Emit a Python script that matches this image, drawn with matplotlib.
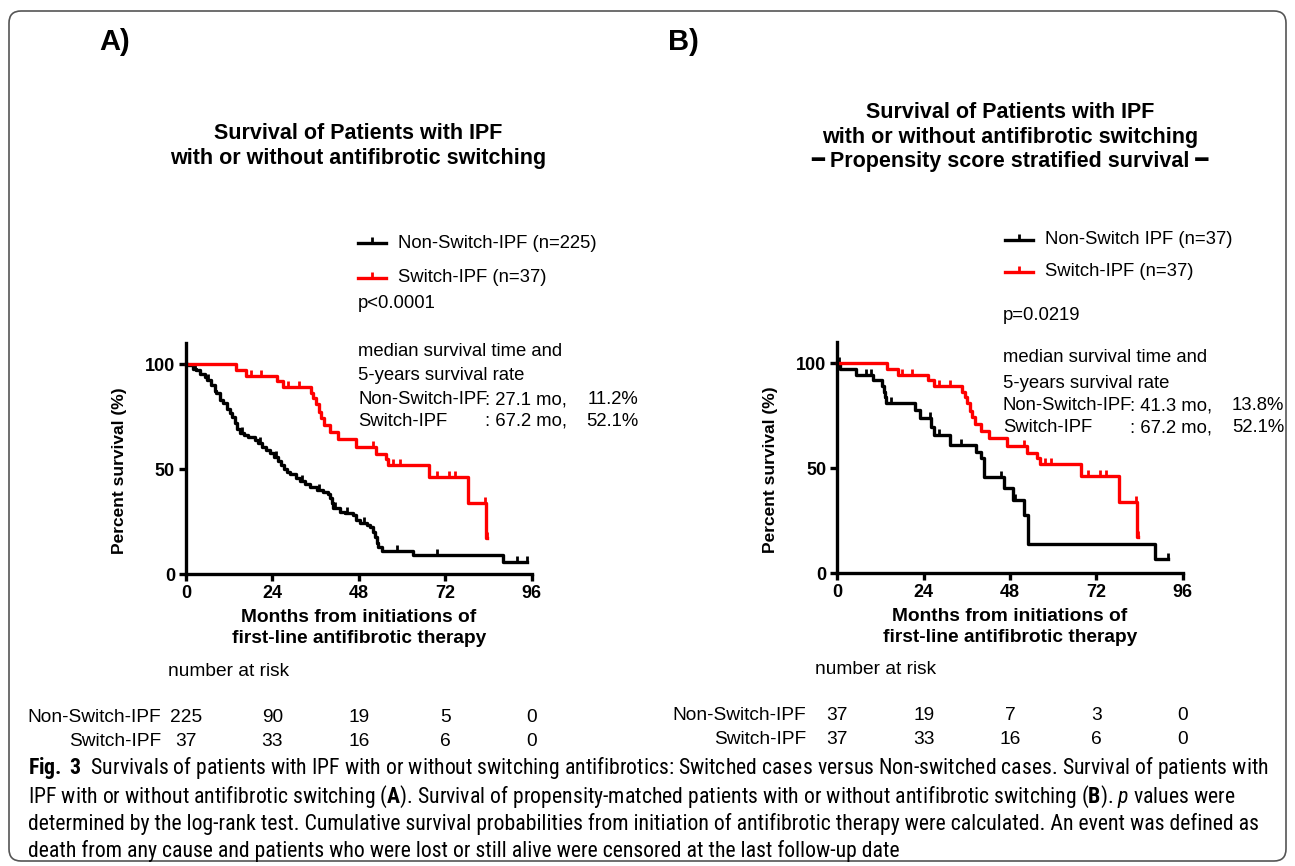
import numpy as np
import matplotlib
matplotlib.use('Agg')
import matplotlib.pyplot as plt
from matplotlib import transforms, font_manager
from matplotlib.patches import FancyBboxPatch
from matplotlib.markers import TICKUP

# ---- data ----
months_ticks = [0, 24, 48, 72, 96]
surv_ticks = [0, 50, 100]

# Switch-IPF (n=37), same curve in both panels
sw_t = [0, 13.9, 16.8, 25.2, 26.9, 34.6, 35.4, 36.1, 36.8, 37.4, 38.3, 40.0,
        42.3, 47.2, 52.8, 55.6, 56.2, 67.6, 78.4, 83.4]
sw_s = [100, 97.3, 94.6, 91.9, 89.2, 86.5, 83.8, 81.1, 77.5, 74.3, 71.1, 67.9,
        64.3, 60.6, 57.3, 54.8, 52.1, 46.2, 33.8, 17.2]
sw_end = 83.7
sw_cens = [18.0, 20.8, 28.4, 31.4, 52.0, 57.6, 59.4, 69.6, 72.9, 74.7, 83.1, 83.7]

# Non-Switch-IPF (n=225), panel A
ns_t = [0, 0.6, 2.0, 2.9, 3.9, 5.2, 5.7, 7.0, 8.1, 8.4, 9.4, 10.3, 11.3, 12.1,
        12.7, 13.5, 14.3, 14.9, 16.0, 17.2, 19.1, 20.0, 21.0, 22.2, 23.3, 24.4,
        25.6, 26.5, 27.2, 28.0, 29.0, 30.6, 31.7, 33.0, 34.4, 36.3, 38.1, 39.5,
        40.0, 40.5, 40.9, 42.8, 44.2, 46.5, 47.3, 48.3, 50.2, 51.1, 52.0, 52.5,
        53.0, 53.4, 54.3, 63.1, 88.1]
ns_s = [100, 99.6, 97.6, 97.1, 95.2, 94.1, 92.5, 90.3, 87.5, 86.2, 83.0, 81.4,
        78.5, 76.7, 74.9, 71.9, 69.4, 67.5, 66.2, 65.5, 64.0, 62.5, 60.8, 59.1,
        57.6, 56.0, 54.0, 52.0, 50.2, 48.9, 47.6, 46.0, 44.5, 43.0, 41.7, 40.2,
        39.4, 38.0, 36.5, 34.0, 31.5, 29.8, 29.1, 28.3, 26.0, 24.3, 23.5, 22.7,
        20.0, 17.9, 15.0, 12.8, 11.2, 9.0, 6.0]
ns_end = 94.6
ns_cens = [2.4, 6.2, 15.5, 20.5, 24.9, 32.3, 36.8, 41.5, 44.8, 49.5, 58.5, 69.6,
           91.8, 94.6]

# Non-Switch IPF (n=37), panel B (propensity matched)
nb_t = [0, 0.7, 5.3, 9.9, 12.5, 12.9, 13.3, 13.6, 21.5, 22.9, 26.1, 27.0, 31.2,
        38.6, 40.0, 40.9, 46.2, 48.8, 51.8, 53.0, 88.3]
nb_s = [100, 97.3, 94.6, 91.9, 89.2, 86.5, 83.8, 81.1, 77.8, 73.8, 69.8, 65.9,
        61.1, 57.9, 54.8, 46.0, 40.5, 34.9, 27.8, 13.8, 6.9]
nb_end = 92.0
nb_cens = [0.4, 8.1, 9.4, 15.0, 25.7, 28.4, 34.4, 45.6, 49.3, 92.0]

risk_A_ns = [225, 90, 19, 5, 0]
risk_A_sw = [37, 33, 16, 6, 0]
risk_B_ns = [37, 19, 7, 3, 0]
risk_B_sw = [37, 33, 16, 6, 0]

caption = [
    "Survivals of patients with IPF with or without switching antifibrotics: Switched cases versus Non-switched cases. Survival of patients with",
    r"IPF with or without antifibrotic switching ($\mathbf{A}$). Survival of propensity-matched patients with or without antifibrotic switching ($\mathbf{B}$). $\mathit{p}$ values were",
    "determined by the log-rank test. Cumulative survival probabilities from initiation of antifibrotic therapy were calculated. An event was defined as",
    "death from any cause and patients who were lost or still alive were censored at the last follow-up date",
]

RED = '#ff0000'
plt.rcParams['font.family'] = ['Liberation Sans', 'DejaVu Sans']

# pick a narrow face for the caption if one is installed
faces = font_manager.fontManager.ttflist
capfont, capstretch = 'Liberation Sans', 'normal'
for want in ['Liberation Sans Narrow', 'Roboto Condensed', 'Open Sans Condensed',
             'Noto Sans Condensed', 'DejaVu Sans Condensed']:
    if any(f.name == want for f in faces):
        capfont = want
        break
else:
    for f in faces:
        if 'condensed' in str(f.stretch) and f.style == 'normal' and 'Mono' not in f.name \
                and 'Serif' not in f.name:
            capfont, capstretch = f.name, f.stretch
            break
suffix = '' if capstretch == 'normal' else ':' + capstretch
plt.rcParams['mathtext.fontset'] = 'custom'
plt.rcParams['mathtext.rm'] = capfont + suffix
plt.rcParams['mathtext.bf'] = capfont + ':bold' + suffix
plt.rcParams['mathtext.it'] = capfont + ':italic' + suffix

W, H = 1295, 866
FS = 13.3
fig = plt.figure(figsize=(W / 100, H / 100), dpi=100)

# overlay in pixel coordinates for free-standing text
ov = fig.add_axes([0, 0, 1, 1])
ov.set_xlim(0, W)
ov.set_ylim(H, 0)
ov.axis('off')

ov.add_patch(FancyBboxPatch((9, 11), W - 18, 850, boxstyle='round,pad=0,rounding_size=12',
                            fc='none', ec='#555555', lw=1.2))


def km(ax, t, s, t_end, cens, color):
    tt = list(t) + [t_end]
    ss = list(s) + [s[-1]]
    ax.step(tt, ss, where='post', color=color, lw=2.4, clip_on=False)
    idx = np.searchsorted(t, cens, side='right') - 1
    ax.plot(cens, np.array(s)[idx], ls='none', marker=TICKUP, ms=4.5, mew=2,
            color=color, clip_on=False)


def setup(ax):
    ax.set_facecolor('none')
    ax.set_xlim(0, 96)
    ax.set_ylim(0, 110)
    ax.set_xticks(months_ticks)
    ax.set_yticks(surv_ticks)
    for side in ['top', 'right']:
        ax.spines[side].set_visible(False)
    for side in ['left', 'bottom']:
        ax.spines[side].set_linewidth(2.4)
    ax.tick_params(width=2.4, length=5, labelsize=13, pad=3)
    for lab in ax.get_xticklabels() + ax.get_yticklabels():
        lab.set_fontweight('bold')
    ax.set_ylabel('Percent survival (%)', fontsize=12.5, fontweight='bold')
    ax.yaxis.set_label_coords(-0.172, 0.45)
    ax.set_xlabel('Months from initiations of\nfirst-line antifibrotic therapy',
                  fontsize=13.8, fontweight='bold', linespacing=1.3)
    ax.xaxis.set_label_coords(0.5, -0.15)


axA = fig.add_axes([186 / W, (H - 574.3) / H, 345.7 / W, 231 / H])
axB = fig.add_axes([837.3 / W, (H - 573.3) / H, 345.4 / W, 231 / H])
setup(axA)
setup(axB)
km(axA, ns_t, ns_s, ns_end, ns_cens, 'black')
km(axA, sw_t, sw_s, sw_end, sw_cens, RED)
km(axB, nb_t, nb_s, nb_end, nb_cens, 'black')
km(axB, sw_t, sw_s, sw_end, sw_cens, RED)

# panel letters and titles
ov.text(115, 42, 'A)', fontsize=21, fontweight='bold', ha='center', va='center')
ov.text(683, 42, 'B)', fontsize=21, fontweight='bold', ha='center', va='center')
ov.text(358, 146, 'Survival of Patients with IPF\nwith or without antifibrotic switching',
        fontsize=15.5, fontweight='bold', ha='center', va='center', linespacing=1.3)
ov.text(1010, 137, 'Survival of Patients with IPF\nwith or without antifibrotic switching\n'
        '\u2501 Propensity score stratified survival \u2501',
        fontsize=15.5, fontweight='bold', ha='center', va='center', linespacing=1.23)


def legend(x0, ys, labels):
    for y, lab, c in zip(ys, labels, ['black', RED]):
        ov.plot([x0, x0 + 28], [y, y], color=c, lw=2.4)
        ov.plot([x0 + 14], [y], marker=TICKUP, ms=4.5, mew=2, color=c)
        ov.text(x0 + 40, y, lab, fontsize=FS, va='center')


def stats(x0, ys, rows, right):
    ov.text(x0, ys[0], 'median survival time and', fontsize=FS, va='center')
    ov.text(x0, ys[1], '5-years survival rate', fontsize=FS, va='center')
    for y, (name, med, rate) in zip(ys[2:], rows):
        ov.text(x0, y, name, fontsize=FS, va='center')
        ov.text(x0 + 127, y, ': %s mo,' % med, fontsize=FS, va='center')
        ov.text(right, y, rate, fontsize=FS, va='center', ha='right')


legend(358, [243, 278], ['Non-Switch-IPF (n=225)', 'Switch-IPF (n=37)'])
ov.text(358, 303, 'p<0.0001', fontsize=FS, va='center')
stats(358, [352, 376, 400, 421],
      [('Non-Switch-IPF', '27.1', '11.2%'), ('Switch-IPF', '67.2', '52.1%')], 638)

legend(1005, [240, 272], ['Non-Switch IPF (n=37)', 'Switch-IPF (n=37)'])
ov.text(1003, 316, 'p=0.0219', fontsize=FS, va='center')
stats(1003, [358, 383, 406, 428],
      [('Non-Switch-IPF', '41.3', '13.8%'), ('Switch-IPF', '67.2', '52.1%')], 1284)


def risk(ax, x_lab, x_nar, y_nar, ys, ns, sw):
    ov.text(x_nar, y_nar, 'number at risk', fontsize=13.8, va='center')
    tr = transforms.blended_transform_factory(ax.transData, ov.transData)
    for y, name, vals in zip(ys, ['Non-Switch-IPF', 'Switch-IPF'], [ns, sw]):
        ov.text(x_lab, y, name, fontsize=13.8, va='center', ha='right')
        for m, v in zip(months_ticks, vals):
            ov.text(m, y, str(v), fontsize=13.8, va='center', ha='center', transform=tr)


risk(axA, 161, 168, 672, [718, 741], risk_A_ns, risk_A_sw)
risk(axB, 806, 815, 669, [716, 739], risk_B_ns, risk_B_sw)

# caption
ys_cap = [768, 797, 824, 851]
cap_txt = [ov.text(28, ys_cap[0], r'$\mathbf{Fig.\ 3}$  ' + caption[0], family=capfont,
                   fontstretch=capstretch, fontsize=12, va='center')]
for y, line in zip(ys_cap[1:], caption[1:]):
    cap_txt.append(ov.text(28, y, line, family=capfont, fontstretch=capstretch,
                           fontsize=12, va='center'))
renderer = fig.canvas.get_renderer()
w0 = cap_txt[0].get_window_extent(renderer).width
scale = 1237 / w0
for t in cap_txt:
    t.set_fontsize(12 * scale)

fig.savefig('out.png', dpi=100)
